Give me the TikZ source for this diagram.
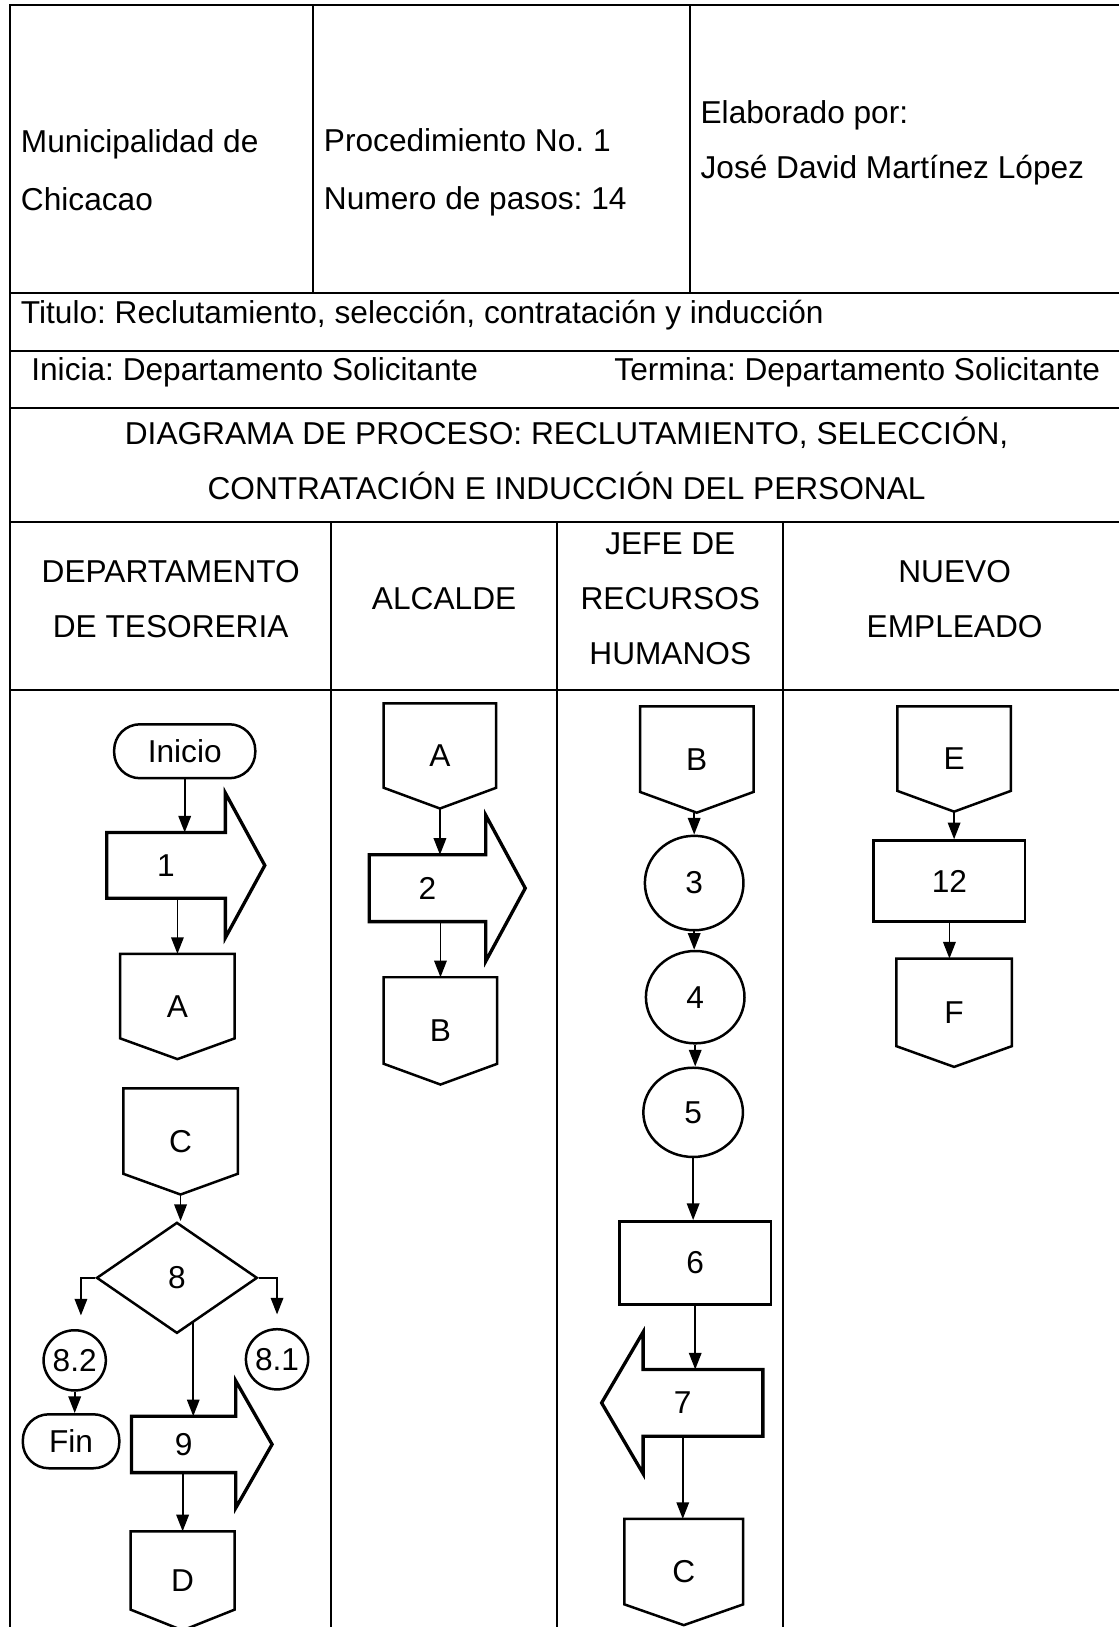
\documentclass[tikz,border=0pt]{standalone}
\usepackage{fontspec}
\setmainfont{Liberation Sans}
\frenchspacing
\usetikzlibrary{calc,arrows.meta,shapes.geometric}

\begin{document}
\begin{tikzpicture}
  [x=1pt,y=-1pt,
   every node/.style={inner sep=0pt,font=\fontsize{30.5}{53}\selectfont},
   tbl/.style={line width=1.8pt,line cap=rect},
   shp/.style={line width=2.4pt},
   blk/.style={line width=3.2pt},
   flow/.style={line width=1.8pt,-{Triangle[length=16pt,width=12pt]}},
   term/.style={draw,shp,rounded corners=25pt},
   offp/.style={rectangle},
   abody/.style={rectangle},
   task/.style={draw,shp,rectangle},
   circ/.style={draw,shp,ellipse},
   deci/.style={draw,shp,diamond}]
  \useasboundingbox (0,0) rectangle (1078,1568);

  \draw[tbl] (10,5) -- (1078,5);
  \foreach \y in {282,338,393,503,665}
    \draw[tbl] (10,\y) -- (1078,\y);
  \draw[tbl] (10,5) -- (10,1568);
  \foreach \x in {302,665}
    \draw[tbl] (\x,5) -- (\x,282);
  \foreach \x in {319,537,755}
    \draw[tbl] (\x,503) -- (\x,1568);

  \node[anchor=west,align=left,font=\fontsize{30.5}{56}\selectfont] (hmuni) at (20,164) {Municipalidad de\\Chicacao};
  \node[anchor=west,align=left,font=\fontsize{30.5}{56}\selectfont] (hproc) at (312,166) {Procedimiento No. 1\\Numero de pasos: 14};
  \node[anchor=west,align=left] (helab) at (675,137.5) {Elaborado por:\\José David Martínez López};
  \node[anchor=west] (htit) at (20,304) {Titulo: Reclutamiento, selección, contratación y inducción};
  \node[anchor=west] (hini) at (30,359) {Inicia: Departamento Solicitante};
  \node[anchor=west] (hter) at (592,359) {Termina: Departamento Solicitante};
  \node[align=center] (hdiag) at (546,441.5) {DIAGRAMA DE PROCESO: RECLUTAMIENTO, SELECCIÓN,\\CONTRATACIÓN E INDUCCIÓN DEL PERSONAL};

  \node[align=center] (ltes) at (164.5,577) {DEPARTAMENTO\\DE TESORERIA};
  \node (lalc) at (428,577) {ALCALDE};
  \node[align=center] (ljefe) at (646,577) {JEFE DE\\RECURSOS\\HUMANOS};
  \node[align=center] (lnue) at (920,577) {NUEVO\\EMPLEADO};

  \node[term,minimum width=136,minimum height=52] (ini) at (178,724) {Inicio};
  \node[abody,minimum width=114,minimum height=63] (p1) at (160,834) {1};
  \node[offp,minimum width=110,minimum height=101] (oA1) at (171,970) {A};
  \node[offp,minimum width=110,minimum height=102] (oC1) at (174,1100) {C};
  \node[deci,minimum width=155,minimum height=107] (d8) at (170.5,1231.5) {8};
  \node[circ,minimum width=60,minimum height=58] (c82) at (72,1311) {8.2};
  \node[circ,minimum width=60,minimum height=58] (c81) at (267,1310) {8.1};
  \node[term,minimum width=93,minimum height=52] (fin) at (68.5,1389) {Fin};
  \node[abody,minimum width=100,minimum height=54] (p9) at (177,1392) {9};
  \node[offp,minimum width=100,minimum height=95] (oD) at (176,1523.5) {D};

  \node[offp,minimum width=108,minimum height=101] (oA2) at (424,728.5) {A};
  \node[abody,minimum width=112,minimum height=64] (p2) at (412,856) {2};
  \node[offp,minimum width=109,minimum height=103] (oB2) at (424.5,993.5) {B};

  \node[offp,minimum width=109,minimum height=102] (oB3) at (671.5,732) {B};
  \node[circ,minimum width=95,minimum height=91] (c3) at (669,851) {3};
  \node[circ,minimum width=95,minimum height=89] (c4) at (670,961) {4};
  \node[circ,minimum width=96,minimum height=86] (c5) at (668,1072) {5};
  \node[task,minimum width=146,minimum height=80] (r6) at (670,1217) {6};
  \node[abody,minimum width=76,minimum height=64] (p7) at (658,1352) {7};
  \node[offp,minimum width=114,minimum height=102] (oC3) at (659,1515) {C};

  \node[offp,minimum width=109,minimum height=101] (oE) at (919.5,731.5) {E};
  \node[task,minimum width=146,minimum height=78] (r12) at (915,849) {12};
  \node[offp,minimum width=111,minimum height=104] (oF) at (919.5,976) {F};

  \foreach \n in {oA1,oC1,oD,oA2,oB2,oB3,oC3,oE,oF}
    \draw[shp] (\n.north west) -- (\n.north east) -- ($(\n.south east)+(0,-20)$)
      -- (\n.south) -- ($(\n.south west)+(0,-20)$) -- cycle;

  \foreach \n/\e/\l in {p1/38/38,p2/38/38,p9/34/35}
    \draw[blk] (\n.north west) -- (\n.north east) -- ++(0,-\e) -- ($(\n.east)+(\l,0)$)
      -- ($(\n.south east)+(0,\e)$) -- (\n.south east) -- (\n.south west) -- cycle;
  \draw[blk] ($(p7.north east)+(39,0)$) -- (p7.north west) -- ++(0,-36) -- ($(p7.west)+(-40,0)$)
    -- ($(p7.south west)+(0,36)$) -- (p7.south west) -- ($(p7.south east)+(39,0)$) -- cycle;

  \foreach \from/\to/\via in {ini/p1/ini,p1/oA1/oA1,oC1/d8/oC1,p9/oD/oD,c82/fin/c82,
      oA2/p2/oA2,p2/oB2/oB2,oB3/c3/c3,c3/c4/c3,c4/c5/c4,c5/r6/c5,r6/p7/r6,p7/oC3/p7,
      oE/r12/oE,r12/oF/r12}
    \draw[flow] (\via |- \from.south) -- (\via |- \to.north);

  \coordinate (d8out) at ($(d8.south)!.2!(d8.east)$);
  \draw[flow] (d8out) -- (d8out |- p9.north);
  \draw[flow,shorten >=13pt] (d8.west) -| ([xshift=6pt]c82.north);
  \draw[flow,shorten >=13pt] (d8.east) -| (c81.north);

\end{tikzpicture}
\end{document}
